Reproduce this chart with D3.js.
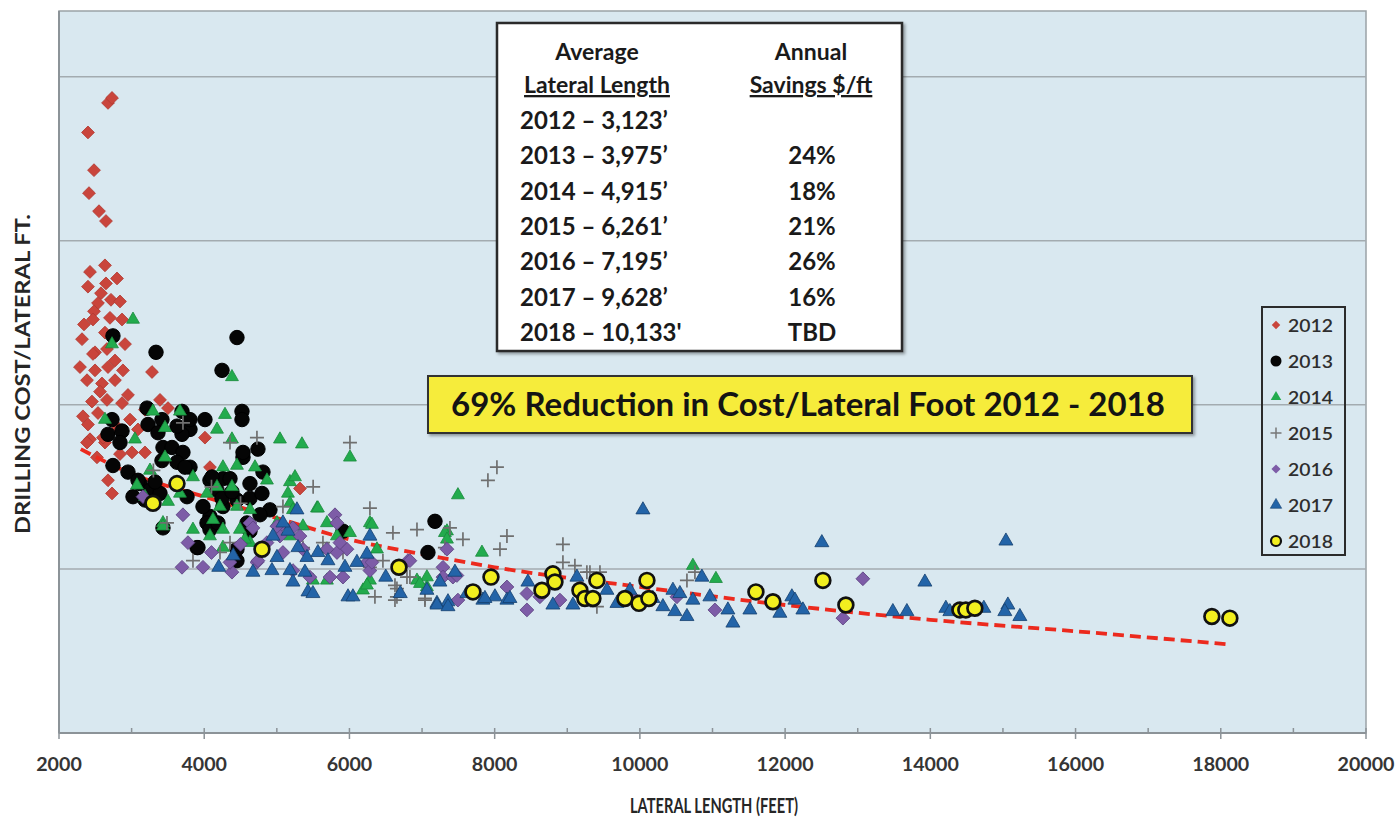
<!DOCTYPE html>
<html><head><meta charset="utf-8">
<script src="https://cdn.jsdelivr.net/npm/d3@7"></script>
<style>
html,body{margin:0;padding:0;background:#fff;}
svg{display:block;font-family:Lato,"Open Sans",sans-serif;}
</style></head>
<body><svg id="chart" width="1398" height="818"></svg>
<script>
// ---------- DATA (lateral length ft, drilling cost $/lateral ft) ----------
const seriesNames = ["2012","2013","2014","2015","2016","2017","2018"];
const d2012 = [[2675,384],[2730,387],[2399,366],[2482,343],[2413,329],[2551,318],[2647,312],
[2427,281],[2633,285],[2799,277],[2399,272],[2647,274],[2578,268],[2716,264],[2537,262],[2840,263],[2482,257],[2702,253],[2468,252],[2633,244],[2344,249],[2868,252],
[2496,232],[2289,223],[2496,221],[2675,223],[2881,221],[3281,220],[2386,215],[2592,213],[2771,215],[2454,202],[2661,203],[2868,201],[2330,193],[2537,195],[3391,203],[3501,198],[2427,179],[2633,177],[3005,171],[3184,171],[4010,180],[2675,154],[2730,146],[2386,177],[2468,231],[2661,234],[2317,240],[2909,237],[2771,227],[2565,208],[2399,188],[2812,186],[2978,191],[4079,162],[5319,149],[3391,148],[3184,197],[2606,180],[2523,168],[2730,163],[2840,170],[3088,185],[2950,206]];
const d2013 = [[2743,242],[3336,232],[4451,241],[4245,221],[3212,198],[2730,191],[2675,182],[2868,184],[2840,177],[3226,188],[3418,191],[3363,183],[3694,196],[4010,191],[4520,196],[4520,191],[3804,185],[3694,182],[3432,174],[3556,174],[3707,171],[3418,166],[3625,165],[3804,162],[2743,163],[2950,159],[3115,152],[3253,148],[3391,146],[3019,144],[3763,144],[4079,154],[4258,155],[4176,148],[4534,168],[4740,173],[4630,152],[4809,159],[4630,143],[4079,132],[4258,138],[4451,142],[4038,128],[4079,124],[3900,113],[4451,105],[4905,136],[4451,112],[3432,125],[4630,123],[4768,133],[5911,123],[7178,129],[7081,110],[4355,155],[4245,143],[3983,138],[4589,128],[4189,128],[3625,187],[3804,191],
[3735,162],[4107,156],[3322,153],[4382,147],[3914,113],[3184,142],[3088,154],[4534,171],[4795,146]];
const d2014 = [[3019,252],[2730,237],[4382,217],[2633,191],[3294,196],[3666,196],[4286,194],[4176,185],[4382,179],[5043,179],[5346,176],[6007,168],[3046,179],[3460,186],[4258,162],[4451,163],[4699,162],[4864,154],[5181,153],[5250,156],[5153,146],[5181,140],[5222,136],[5553,137],[3460,168],[3253,160],[3074,151],[3184,144],[3501,141],[3666,146],[3845,156],[4038,146],[4176,150],[4382,150],[4217,138],[4451,138],[4630,136],[4121,130],[4258,124],[4492,124],[4630,116],[5002,128],[5181,120],[5360,126],[5690,128],[5828,120],[6007,122],[5690,112],[5497,93],[5690,93],[6282,128],[6379,112],[6282,93],[6186,87],[3432,128],[3432,126],[3845,124],[4079,120],[4561,118],[4258,113],[7343,123],[6930,93],[7067,89],[7494,145],[6310,127],[5566,137],[7825,110],[6241,90],[7315,122],[10730,102],[11047,94],[7067,95],[6971,91],[7343,118]];
const d2015 = [[4726,180],[6007,177],[4355,177],[6282,137],[6599,122],[6930,124],[3845,105],[4217,110],[4355,116],[6351,83],[6654,83],[6654,88],[6792,95],[5635,116],[5911,110],[3707,189],[3487,128],[5084,138],[5360,113],[6282,101],[6461,105],[8031,162],[7907,154],[7384,125],[7563,118],[8169,120],[6627,90],[6627,81],[7040,81],[6833,95],[7315,113],[8073,112],[8940,115],[8940,104],[9105,102],[9312,98],[9450,98],[10648,93],[10758,98],[9270,98],[9408,77],[7040,82],[4100,150],[4500,140],[5500,150],[3300,160],[5200,125]];
const d2016 = [[3694,101],[3983,101],[4382,98],[4355,104],[3776,116],[4630,128],[4726,104],[5043,126],[5043,120],[5084,110],[5222,99],[5456,95],[5801,133],[5828,128],[5966,112],[5828,110],[5911,95],[6241,104],[6282,99],[3157,144],[3707,133],[4864,116],[5360,112],[5690,112],[6806,105],[7288,101],[7288,95],[4671,125],[5002,126],[4740,105],[5222,125],[5319,120],[5732,95],[5869,116],[6310,104],[7343,112],[8169,89],[7425,95],[7494,81],[7480,96],[8444,85],[8444,75],[9174,87],[9904,83],[13071,94],[12796,70],[11033,75],[10510,83],[6833,105],[8623,83],[8899,81],[4100,110],[4500,115]];
const d2017 = [[4947,120],[5153,123],[4933,99],[5181,99],[5291,113],[5415,107],[5566,110],[5387,98],[5222,92],[5429,86],[5497,85],[5980,83],[6048,83],[5938,101],[6103,104],[6241,109],[6282,120],[5704,105],[5002,107],[7067,87],[7246,92],[7205,79],[7357,80],[7453,98],[7618,85],[7838,81],[8004,83],[8169,81],[5084,128],[5277,136],[4671,98],[10042,136],[12506,116],[7205,78],[7357,77],[7866,82],[8210,82],[8458,92],[8802,78],[9078,78],[9133,95],[9546,87],[9684,79],[9863,87],[10179,82],[10317,77],[10482,74],[10648,71],[10854,95],[10455,87],[10551,85],[10730,81],[10964,83],[11212,75],[11281,67],[12093,83],[11928,73],[12135,81],[12245,75],[11515,75],[6500,95],[6700,85],[4400,108],[4200,101],
[15041,117],[13925,92],[13484,74],[13677,74],[14214,76],[14379,75],[14737,76],[15068,78],[15233,71],[14269,74],[15026,74]];
const d2018 = [[3294,140],[3625,152],[4795,112],[6682,101],[7701,86],[7949,95],[8651,87],[8802,97],[8830,92],[9174,87],[9243,82],[9353,82],[9408,93],[9794,82],[9987,79],[10124,82],[10097,93],[11598,86],[11832,80],[12520,93],[12837,78],[14407,75],[14489,75],[14613,76],[17877,71],[18125,70]];
const trendPts = [[2300,173],[3000,158],[4000,144],[5000,131],[6000,118],[7000,109],[8000,101],[10000,89],[12000,78],[14000,69],[16000,62],[18100,54]];
const xTicks = [2000,4000,6000,8000,10000,12000,14000,16000,18000,20000];
const xMinorTicks = [3000,5000,7000,9000,11000,13000,15000,17000,19000];
const yGrid = [100,200,300,400];
const tableHead = [["Average","Lateral Length"],["Annual","Savings $/ft"]];
const tableRows = ["2012 – 3,123’","2013 – 3,975’","2014 – 4,915’","2015 – 6,261’","2016 – 7,195’","2017 – 9,628’","2018 – 10,133'"];
const tableSavings = ["","24%","18%","21%","26%","16%","TBD"];
const bannerText = "69% Reduction in Cost/Lateral Foot 2012 - 2018";
const xTitle = "LATERAL LENGTH (FEET)";
const yTitle = "DRILLING COST/LATERAL FT.";

// ---------- CHART ----------
const svg = d3.select("#chart");
const L=59, R=1366, T=11, B=733;
const x = d3.scaleLinear().domain([2000,20000]).range([L,R]);
const y = d3.scaleLinear().domain([0,440]).range([B,T]);

const defs = svg.append("defs");
const f = defs.append("filter").attr("id","sh").attr("x","-5%").attr("y","-5%").attr("width","115%").attr("height","120%");
f.append("feDropShadow").attr("dx",2).attr("dy",2).attr("stdDeviation",1.5).attr("flood-color","#000").attr("flood-opacity",0.35);

// plot background
svg.append("rect").attr("x",L).attr("y",T).attr("width",R-L).attr("height",B-T)
  .attr("fill","#d9e8f0").attr("stroke","#9aa2a7").attr("stroke-width",1.5);

// gridlines
svg.append("g").selectAll("line").data(yGrid).join("line")
  .attr("x1",L).attr("x2",R).attr("y1",d=>y(d)).attr("y2",d=>y(d))
  .attr("stroke","#a3abb0").attr("stroke-width",1.5);

// x axis
const gx = svg.append("g").attr("transform",`translate(0,${B})`);
gx.append("line").attr("x1",L).attr("x2",R).attr("stroke","#8c9398").attr("stroke-width",2);
gx.selectAll(".maj").data(xTicks).join("line").attr("class","maj")
  .attr("x1",d=>x(d)).attr("x2",d=>x(d)).attr("y1",-5).attr("y2",6).attr("stroke","#8c9398").attr("stroke-width",1.5);
gx.selectAll(".min").data(xMinorTicks).join("line").attr("class","min")
  .attr("x1",d=>x(d)).attr("x2",d=>x(d)).attr("y1",-5).attr("y2",0).attr("stroke","#8c9398").attr("stroke-width",1.5);
gx.selectAll("text").data(xTicks).join("text")
  .attr("x",d=>x(d)).attr("y",38).attr("text-anchor","middle")
  .attr("font-size",19).attr("font-weight",700).attr("fill","#353535")
  .attr("textLength",d=>String(d).length*11.4).attr("lengthAdjust","spacingAndGlyphs")
  .text(d=>d);
// left axis line
svg.append("line").attr("x1",L).attr("x2",L).attr("y1",T).attr("y2",B).attr("stroke","#8c9398").attr("stroke-width",2);

// axis titles
svg.append("text").attr("x",714).attr("y",813).attr("text-anchor","middle")
  .attr("font-size",21).attr("font-weight",700).attr("fill","#262626")
  .attr("textLength",168).attr("lengthAdjust","spacingAndGlyphs").text(xTitle);
svg.append("text").attr("transform","translate(30,374) rotate(-90)").attr("text-anchor","middle")
  .attr("font-size",21).attr("font-weight",700).attr("fill","#262626")
  .attr("textLength",320).attr("lengthAdjust","spacingAndGlyphs").text(yTitle);

// markers
const plotG = svg.append("g");
const diamond = (g,data,sz,fill,stroke)=>g.selectAll("path").data(data).join("path")
  .attr("d",d3.symbol(d3.symbolSquare,sz)())
  .attr("transform",d=>`translate(${x(d[0])},${y(d[1])}) rotate(45)`)
  .attr("fill",fill).attr("stroke",stroke).attr("stroke-width",0.8);
const circle = (g,data,r,fill,stroke,sw)=>g.selectAll("circle").data(data).join("circle")
  .attr("cx",d=>x(d[0])).attr("cy",d=>y(d[1])).attr("r",r)
  .attr("fill",fill).attr("stroke",stroke).attr("stroke-width",sw);
const tri = (g,data,sz,fill,stroke)=>g.selectAll("path").data(data).join("path")
  .attr("d",d3.symbol(d3.symbolTriangle,sz)())
  .attr("transform",d=>`translate(${x(d[0])},${y(d[1])})`)
  .attr("fill",fill).attr("stroke",stroke).attr("stroke-width",0.8);
const plus = (g,data,h,col)=>g.selectAll("path").data(data).join("path")
  .attr("d",`M${-h},0H${h}M0,${-h}V${h}`)
  .attr("transform",d=>`translate(${x(d[0])},${y(d[1])})`)
  .attr("fill","none").attr("stroke",col).attr("stroke-width",1.7);

const styles = {
  "2012": g=>diamond(g,d2012,82,"#c9453c","#b23a32"),
  "2013": g=>circle(g,d2013,7.2,"#050505","#000",1),
  "2014": g=>tri(g,d2014,72,"#22ab4d","#198a3c"),
  "2015": g=>plus(g,d2015,7,"#6f6f6f"),
  "2016": g=>diamond(g,d2016,95,"#7d5ca7","#5c4282"),
  "2017": g=>tri(g,d2017,85,"#2364a8","#15406e"),
  "2018": g=>circle(g,d2018,7.4,"#f2ef1f","#111",2.7)
};
styles["2012"](plotG.append("g"));
// trend line
const line = d3.line().x(d=>x(d[0])).y(d=>y(d[1])).curve(d3.curveMonotoneX);
plotG.append("path").datum(trendPts).attr("d",line).attr("fill","none")
  .attr("stroke","#ec2a1e").attr("stroke-width",3.8).attr("stroke-dasharray","11,6");
seriesNames.slice(1).forEach(s=>styles[s](plotG.append("g")));

// table box
const tb = svg.append("g");
tb.append("rect").attr("x",497).attr("y",23).attr("width",405).attr("height",328)
  .attr("fill","#fff").attr("stroke","#2b2b2b").attr("stroke-width",2.5).attr("filter","url(#sh)");
const tcols = [597,811];
tableHead.forEach((h,i)=>{
  tb.append("text").attr("x",tcols[i]).attr("y",60).attr("text-anchor","middle")
    .attr("font-size",23).attr("font-weight",700).attr("fill","#1a1a1a").text(h[0]);
  tb.append("text").attr("x",tcols[i]).attr("y",93).attr("text-anchor","middle")
    .attr("font-size",23).attr("font-weight",700).attr("fill","#1a1a1a")
    .attr("text-decoration","underline").text(h[1]);
});
tb.selectAll(".row").data(tableRows).join("text").attr("class","row")
  .attr("x",520).attr("y",(d,i)=>129+i*35.3).attr("font-size",24).attr("font-weight",700).attr("fill","#1a1a1a").text(d=>d);
tb.selectAll(".sav").data(tableSavings).join("text").attr("class","sav")
  .attr("x",812).attr("y",(d,i)=>129+i*35.3).attr("text-anchor","middle").attr("font-size",24).attr("font-weight",700).attr("fill","#1a1a1a").text(d=>d);

// banner
const bn = svg.append("g");
bn.append("rect").attr("x",428).attr("y",376).attr("width",764).attr("height",57)
  .attr("fill","#f6ec3a").attr("stroke","#333").attr("stroke-width",2).attr("filter","url(#sh)");
bn.append("text").attr("x",808).attr("y",416).attr("text-anchor","middle")
  .attr("font-size",33).attr("font-weight",700).attr("fill","#141414").text(bannerText);

// legend
const lg = svg.append("g");
lg.append("rect").attr("x",1262).attr("y",307).attr("width",83).attr("height",248)
  .attr("fill","none").attr("stroke","#2b2b2b").attr("stroke-width",2);
const legMarks = {
  "2012": g=>g.append("path").attr("d",d3.symbol(d3.symbolSquare,36)()).attr("transform","rotate(45)").attr("fill","#c9453c"),
  "2013": g=>g.append("circle").attr("r",5.5).attr("fill","#050505"),
  "2014": g=>g.append("path").attr("d",d3.symbol(d3.symbolTriangle,48)()).attr("fill","#22ab4d"),
  "2015": g=>g.append("path").attr("d","M-5.5,0H5.5M0,-5.5V5.5").attr("stroke","#777").attr("stroke-width",1.5),
  "2016": g=>g.append("path").attr("d",d3.symbol(d3.symbolSquare,42)()).attr("transform","rotate(45)").attr("fill","#7d5ca7"),
  "2017": g=>g.append("path").attr("d",d3.symbol(d3.symbolTriangle,56)()).attr("fill","#2364a8").attr("stroke","#15406e").attr("stroke-width",0.6),
  "2018": g=>g.append("circle").attr("r",5).attr("fill","#f2ef1f").attr("stroke","#111").attr("stroke-width",2.2)
};
seriesNames.forEach((s,i)=>{
  const g = lg.append("g").attr("transform",`translate(1276,${325+i*36})`);
  legMarks[s](g);
  lg.append("text").attr("x",1288).attr("y",325+i*36+6.5).attr("font-size",17).attr("font-weight",600).attr("fill","#2e2e2e")
    .attr("textLength",45).attr("lengthAdjust","spacingAndGlyphs").text(s);
});
</script></body></html>
